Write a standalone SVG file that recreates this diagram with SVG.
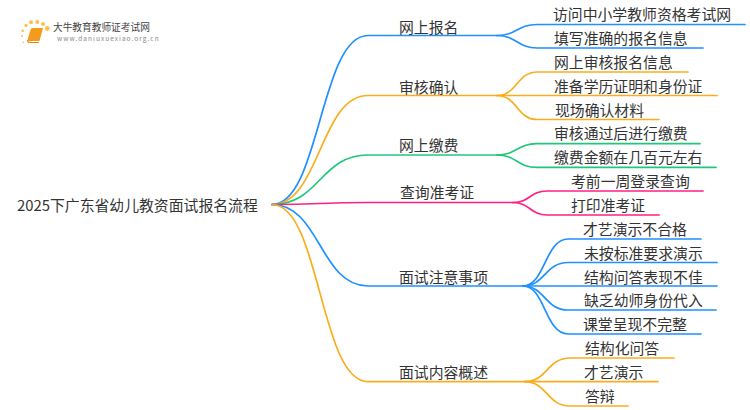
<svg xmlns="http://www.w3.org/2000/svg" width="750" height="410" viewBox="0 0 750 410">
<style>
text{font-family:"Noto Sans CJK SC","Noto Sans",sans-serif;fill:#333;font-size:14.85px}
.c{fill:none;stroke-width:1.7;stroke-linecap:round}
.b{stroke:#1e90ff}.o{stroke:#f9ad1c}.g{stroke:#1fc77c}.p{stroke:#ff1f85}
</style>
<rect width="750" height="410" fill="#fff"/>
<g id="logo">
<g fill="#fbc04a"><circle cx="47.300" cy="28.500" r="2.400"/><circle cx="43" cy="24" r="2"/><circle cx="37.300" cy="22" r="2"/><circle cx="31" cy="22.300" r="2"/><circle cx="26" cy="25.300" r="1.600"/><circle cx="22.700" cy="30.700" r="1.300"/><circle cx="22" cy="36" r="1"/><circle cx="23.300" cy="42.300" r="0.800"/></g>
<path d="M31 28.500Q31.500 28 33 28H43L39.500 41H29Q27 41 28 38Z" fill="#f59a1a"/><path d="M27.500 40Q27.500 42.500 30 42.500H39" fill="none" stroke="#e8861a" stroke-width="1.200"/>
<text x="53" y="31" style="font-size:9.7px;fill:#444">大牛教育教师证考试网</text>
<text x="57" y="41" style="font-size:6.500px;fill:#888;letter-spacing:1.05px">www.daniuxuexiao.org.cn</text>
</g>
<g id="connectors">
<path class="c b" d="M272 204.500C320 204.500 320 35.500 368 35.500H497"/>
<path class="c o" d="M272 204.500C320 204.500 320 95.500 368 95.500H497"/>
<path class="c g" d="M272 204.500C320 204.500 320 155 368 155H497"/>
<path class="c p" d="M272 204.500C320 204.500 320 202.500 368 202.500H513"/>
<path class="c b" d="M272 204.500C320 204.500 320 286 368 286H523"/>
<path class="c o" d="M272 204.500C320 204.500 320 381.700 368 381.700H525"/>
<path class="c b" d="M497 35.500C517 35.500 517 24.500 537 24.500H745"/>
<path class="c b" d="M497 35.500C517 35.500 517 48 537 48H703"/>
<path class="c o" d="M497 95.500C517 95.500 517 72 537 72H688"/>
<path class="c o" d="M497 95.500H717"/>
<path class="c o" d="M497 95.500C517 95.500 517 119.500 537 119.500H659"/>
<path class="c g" d="M497 155C517 155 517 143.700 537 143.700H700"/>
<path class="c g" d="M497 155C517 155 517 167.400 537 167.400H716"/>
<path class="c p" d="M513 202.500C530 202.500 530 191 547 191H703"/>
<path class="c p" d="M513 202.500C530 202.500 530 215 547 215H659"/>
<path class="c b" d="M523 286C545 286 545 239 568 239H701"/>
<path class="c b" d="M523 286C545 286 545 262.500 568 262.500H717"/>
<path class="c b" d="M523 286H717"/>
<path class="c b" d="M523 286C545 286 545 310 568 310H716"/>
<path class="c b" d="M523 286C545 286 545 334 568 334H701"/>
<path class="c o" d="M525 381.700C547 381.700 547 358 570 358H674"/>
<path class="c o" d="M525 381.700H658"/>
<path class="c o" d="M525 381.700C547 381.700 547 406 570 406H628"/>
</g>
<g id="root"><text x="17" y="211">2025下广东省幼儿教资面试报名流程</text></g>
<g id="n1"><text x="399" y="32.500">网上报名</text></g>
<g id="n1a"><text x="553" y="20">访问中小学教师资格考试网</text></g>
<g id="n1b"><text x="554" y="44">填写准确的报名信息</text></g>
<g id="n2"><text x="399" y="92.500">审核确认</text></g>
<g id="n2a"><text x="554" y="68">网上审核报名信息</text></g>
<g id="n2b"><text x="554" y="92">准备学历证明和身份证</text></g>
<g id="n2c"><text x="555" y="116">现场确认材料</text></g>
<g id="n3"><text x="399" y="151">网上缴费</text></g>
<g id="n3a"><text x="554" y="139">审核通过后进行缴费</text></g>
<g id="n3b"><text x="554" y="163">缴费金额在几百元左右</text></g>
<g id="n4"><text x="400" y="198">查询准考证</text></g>
<g id="n4a"><text x="571" y="187">考前一周登录查询</text></g>
<g id="n4b"><text x="571" y="211">打印准考证</text></g>
<g id="n5"><text x="399" y="283">面试注意事项</text></g>
<g id="n5a"><text x="583" y="235">才艺演示不合格</text></g>
<g id="n5b"><text x="584" y="259">未按标准要求演示</text></g>
<g id="n5c"><text x="584" y="283">结构问答表现不佳</text></g>
<g id="n5d"><text x="584" y="306">缺乏幼师身份代入</text></g>
<g id="n5e"><text x="583" y="330">课堂呈现不完整</text></g>
<g id="n6"><text x="399" y="378">面试内容概述</text></g>
<g id="n6a"><text x="585" y="354">结构化问答</text></g>
<g id="n6b"><text x="584" y="378">才艺演示</text></g>
<g id="n6c"><text x="585" y="402">答辩</text></g>
</svg>
